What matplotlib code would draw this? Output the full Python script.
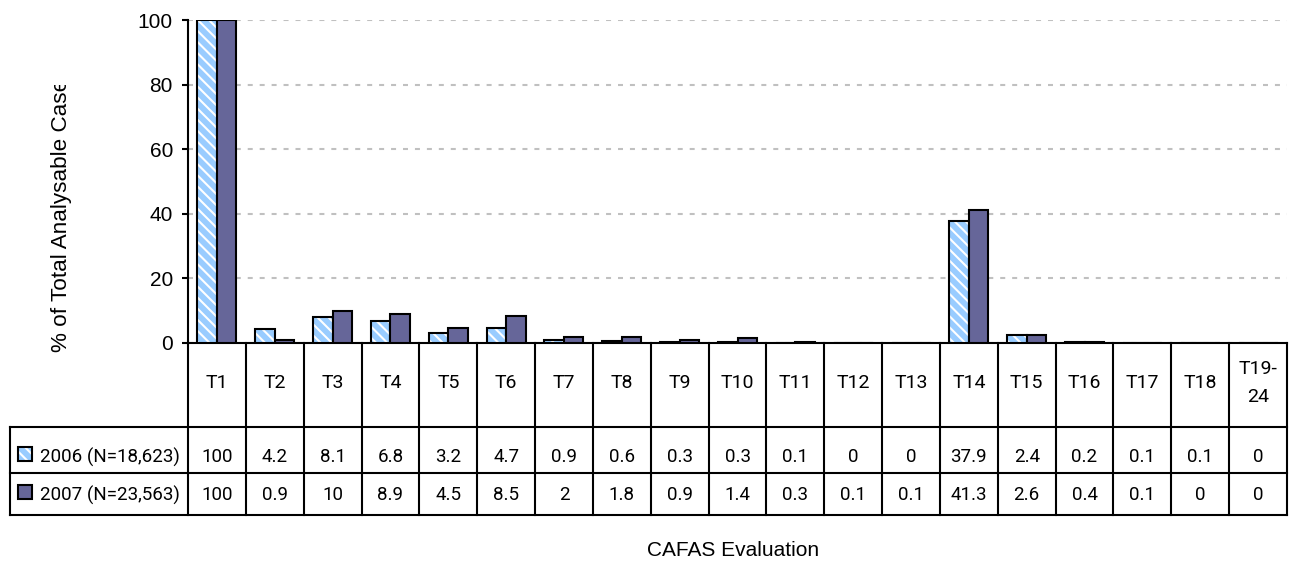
import numpy as np
import matplotlib
matplotlib.use("Agg")
import matplotlib.pyplot as plt
from matplotlib.lines import Line2D
from matplotlib.patches import Rectangle
from matplotlib.transforms import blended_transform_factory, Bbox

# ---- data -------------------------------------------------------------
categories = ["T1", "T2", "T3", "T4", "T5", "T6", "T7", "T8", "T9", "T10",
              "T11", "T12", "T13", "T14", "T15", "T16", "T17", "T18", "T19-\n24"]
series_labels = ["2006 (N=18,623)", "2007 (N=23,563)"]
values_2006 = [100, 4.2, 8.1, 6.8, 3.2, 4.7, 0.9, 0.6, 0.3, 0.3,
               0.1, 0, 0, 37.9, 2.4, 0.2, 0.1, 0.1, 0]
values_2007 = [100, 0.9, 10, 8.9, 4.5, 8.5, 2, 1.8, 0.9, 1.4,
               0.3, 0.1, 0.1, 41.3, 2.6, 0.4, 0.1, 0, 0]
y_ticks = [0, 20, 40, 60, 80, 100]
x_title = "CAFAS Evaluation"
y_title = "% of Total Analysable Cases"

# ---- style ------------------------------------------------------------
plt.rcParams["lines.scale_dashes"] = False
plt.rcParams["hatch.linewidth"] = 1.5
AXIS_FONT = ["Liberation Sans", "DejaVu Sans"]
TABLE_FONT = ["Roboto", "DejaVu Sans"]
LIGHT = "#99ccff"
DARK = "#666699"
LW = 1.5

W, H = 1289, 562
fig = plt.figure(figsize=(W / 100, H / 100), dpi=100)


def fy(py):
    """Pixel row (from top) -> figure fraction."""
    return 1 - py / H


def fx(px):
    return px / W


ax_left, ax_right, ax_top, ax_bottom = 188, 1287, 20, 343
ax = fig.add_axes([fx(ax_left), fy(ax_bottom),
                   (ax_right - ax_left) / W, (ax_bottom - ax_top) / H])

n = len(categories)
x = np.arange(n)
bw = 0.337

# bars: striped 2006, solid 2007
ax.bar(x - bw / 2, values_2006, bw, color=LIGHT, edgecolor="white",
       hatch="\\\\\\", linewidth=0, zorder=3)
ax.bar(x - bw / 2, values_2006, bw, fill=False, edgecolor="black",
       linewidth=LW, zorder=4)
ax.bar(x + bw / 2, values_2007, bw, color=DARK, edgecolor="black",
       linewidth=LW, zorder=4)

ax.set_xlim(-0.5, n - 0.5)
ax.set_ylim(0, 100)
ax.set_yticks(y_ticks)
ax.set_xticks([])
ax.tick_params(axis="y", direction="out", length=6 * 0.72, width=LW,
               pad=6.5, labelsize=15, colors="black")
for lab in ax.get_yticklabels():
    lab.set_family(AXIS_FONT)
ax.yaxis.grid(True, color="#c0c0c0", linewidth=1.5,
              linestyle=(0, (3.6, 5.0)), zorder=0)
ax.set_axisbelow(True)
for side in ("top", "right"):
    ax.spines[side].set_visible(False)
for side in ("left", "bottom"):
    ax.spines[side].set_linewidth(LW)
    ax.spines[side].set_color("black")

# ---- data table under the axis ---------------------------------------
tr = blended_transform_factory(ax.transData, fig.transFigure)
row_lines = [427, 473, 515]
table_bottom = row_lines[-1]
for i in range(n + 1):
    fig.add_artist(Line2D([i - 0.5, i - 0.5], [fy(ax_bottom), fy(table_bottom)],
                          transform=tr, color="black", linewidth=LW,
                          solid_capstyle="projecting"))
for ry in row_lines:
    fig.add_artist(Line2D([fx(10), fx(ax_right)], [fy(ry), fy(ry)],
                          transform=fig.transFigure, color="black",
                          linewidth=LW, solid_capstyle="projecting"))
fig.add_artist(Line2D([fx(10), fx(10)], [fy(row_lines[0]), fy(table_bottom)],
                      transform=fig.transFigure, color="black", linewidth=LW,
                      solid_capstyle="projecting"))

# category header row
for i, cat in enumerate(categories):
    fig.text(i, fy(383), cat, transform=tr, ha="center", va="center",
             fontsize=14, family=TABLE_FONT, linespacing=1.75)

# value rows with legend keys
row_y = [457, 495]
for r, (label, vals) in enumerate(zip(series_labels, [values_2006, values_2007])):
    yc = row_y[r]
    key_xy = (fx(18), fy(yc + 4))
    if r == 0:
        fig.add_artist(Rectangle(key_xy, 14 / W, 14 / H,
                                 transform=fig.transFigure, facecolor=LIGHT,
                                 edgecolor="white", hatch="\\\\\\", linewidth=0))
        fig.add_artist(Rectangle(key_xy, 14 / W, 14 / H,
                                 transform=fig.transFigure, fill=False,
                                 edgecolor="black", linewidth=LW))
    else:
        fig.add_artist(Rectangle(key_xy, 14 / W, 14 / H,
                                 transform=fig.transFigure, facecolor=DARK,
                                 edgecolor="black", linewidth=LW))
    fig.text(fx(40), fy(yc), label, ha="left", va="center",
             fontsize=13.5, family=TABLE_FONT)
    for i, v in enumerate(vals):
        fig.text(i, fy(yc), f"{v:g}", transform=tr, ha="center", va="center",
                 fontsize=13.5, family=TABLE_FONT)

# ---- axis titles ------------------------------------------------------
fig.text(fx(733), fy(551), x_title, ha="center", va="center",
         fontsize=15, family=AXIS_FONT)
yt = fig.text(fx(61), fy(352), y_title, rotation=90, rotation_mode="anchor",
              ha="left", va="center", fontsize=16.2, family=AXIS_FONT)
# the title runs past the top of the chart area and is cut there
yt.set_clip_box(Bbox.from_extents(0, 0, W, H - 85))
yt.set_clip_on(True)

fig.savefig("out.png", dpi=100)
